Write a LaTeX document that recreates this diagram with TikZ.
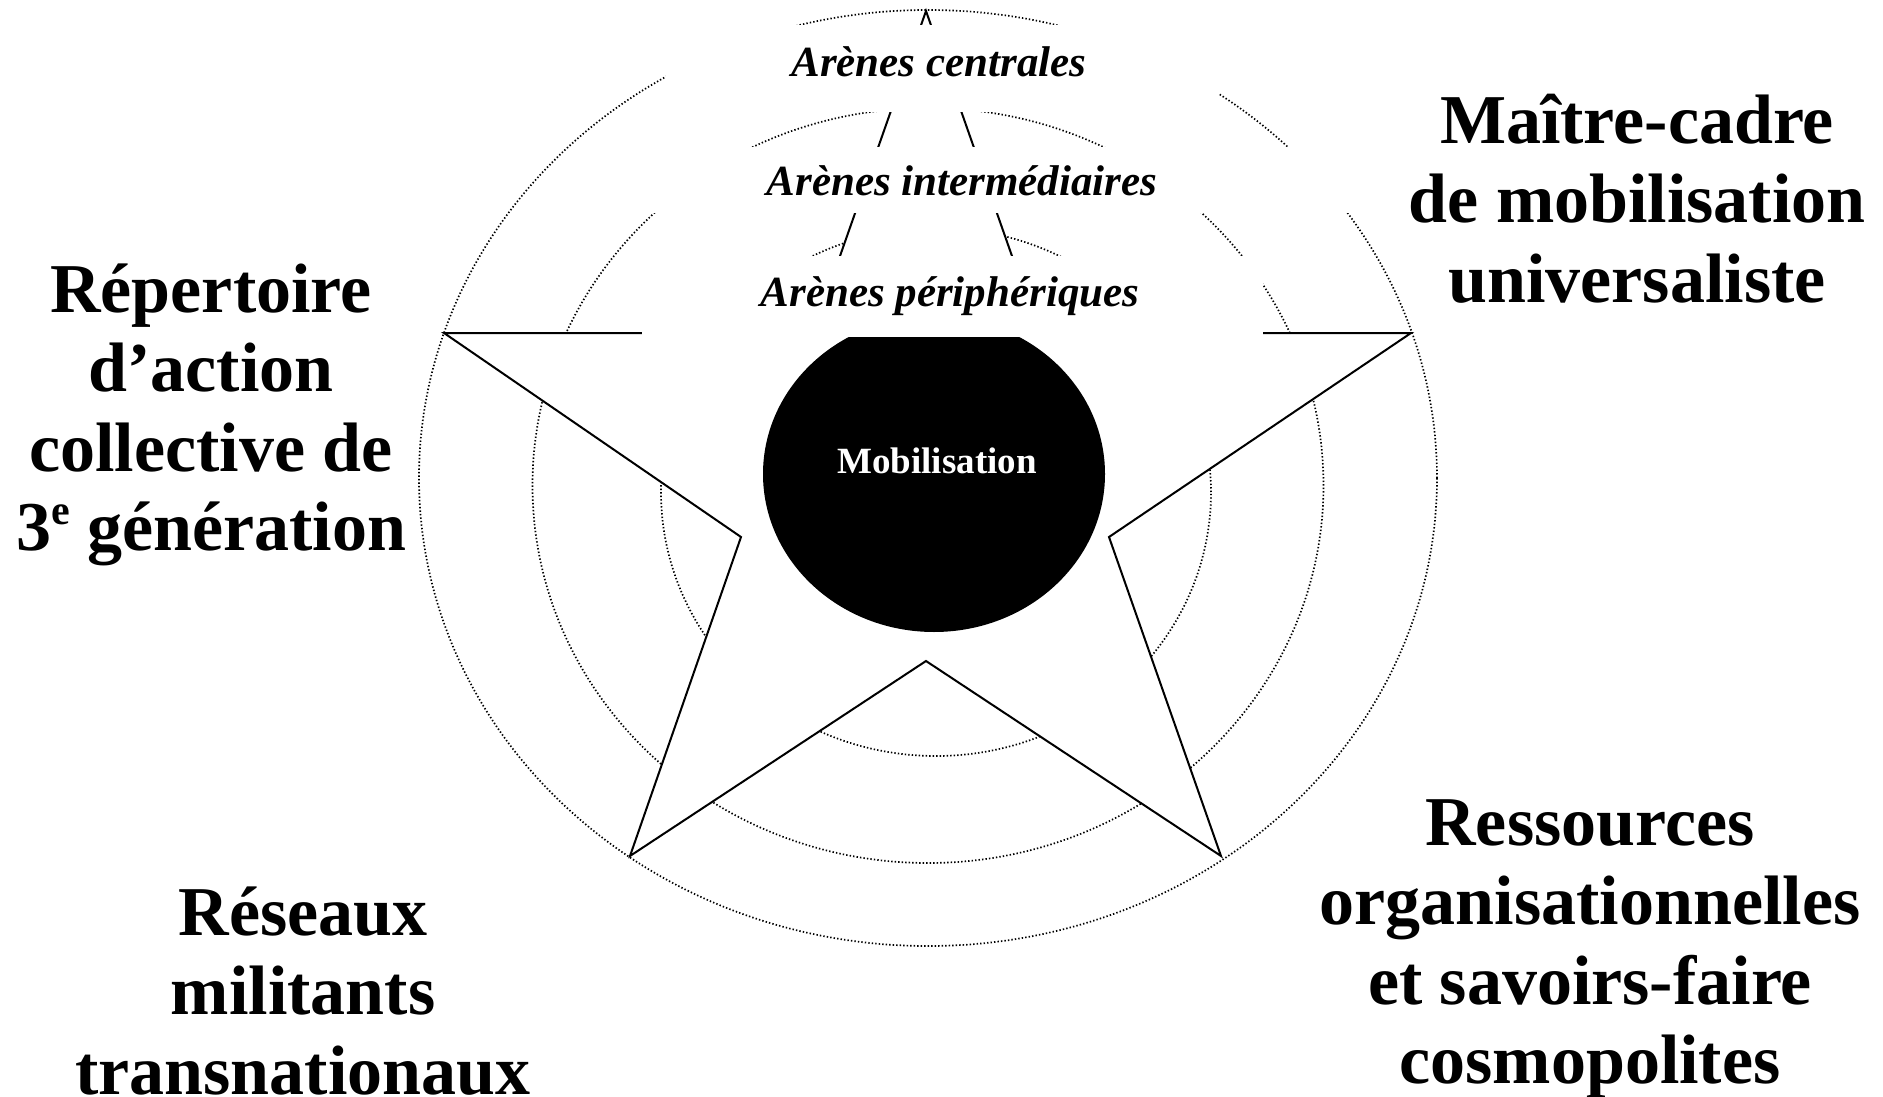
\documentclass[tikz,border=0pt]{standalone}
\usepackage{fontspec}
\setmainfont{Liberation Serif}
\begin{document}
\begin{tikzpicture}[x=1pt,y=-1pt,
  dotc/.style={line width=1.7pt, dash pattern=on 1.4pt off 2.1pt},
  starline/.style={line width=2pt, line join=miter},
  whitebox/.style={fill=white},
  arena/.style={font=\fontsize{43}{50}\selectfont\bfseries\itshape, anchor=base, inner sep=0pt},
  biglabel/.style={font=\fontsize{70}{79.5}\selectfont\bfseries, align=center, anchor=base, inner sep=0pt},
  moblabel/.style={font=\fontsize{37}{44}\selectfont\bfseries, text=white, anchor=base, inner sep=0pt}
]
\useasboundingbox (0,0) rectangle (1883,1097);
% dotted circles
\draw[dotc] (928,478) ellipse [x radius=509pt, y radius=468pt];
\draw[dotc] (928,485.5) ellipse [x radius=395.5pt, y radius=377.5pt];
\draw[dotc] (936,492) ellipse [x radius=275pt, y radius=264pt];
% star
\coordinate (T) at (926,11);
\coordinate (IUR) at (1039,333);
\coordinate (R) at (1411,333);
\coordinate (ILR) at (1109,537);
\coordinate (BR) at (1221,856);
\coordinate (IB) at (926,661);
\coordinate (BL) at (630,856);
\coordinate (ILL) at (741,537);
\coordinate (L) at (444,333);
\coordinate (IUL) at (813,333);
\draw[starline, fill=white] (T) -- (IUR) -- (R) -- (ILR) -- (BR) -- (IB) -- (BL) -- (ILL) -- (L) -- (IUL) -- cycle;
% central ellipse
\fill (934,474) ellipse [x radius=171pt, y radius=158pt];
\node[moblabel] (mob) at (937,473) {Mobilisation};
% arenas
\fill[whitebox] (666,25) rectangle (1219,112);
\node[arena] (cent) at (939,77) {Arènes centrales};
\fill[whitebox] (574,147) rectangle (1352,213);
\node[arena] (inter) at (962,195) {Arènes intermédiaires};
\fill[whitebox] (642,256) rectangle (1263,337);
\node[arena] (peri) at (950,306) {Arènes périphériques};
% big labels (anchor = baseline of last line)
\node[biglabel] (rep) at (211,550.5) {Répertoire\\d’action\\collective de\\3\raisebox{26pt}{\fontsize{42}{42}\selectfont e} génération};
\node[biglabel] (cadre) at (1637,302) {Maître-cadre\\de mobilisation\\universaliste};
\node[biglabel] (res) at (303,1094) {Réseaux\\militants\\transnationaux};
\node[biglabel] (ress) at (1590,1083.5) {Ressources\\organisationnelles\\et savoirs-faire\\cosmopolites};
\end{tikzpicture}
\end{document}
